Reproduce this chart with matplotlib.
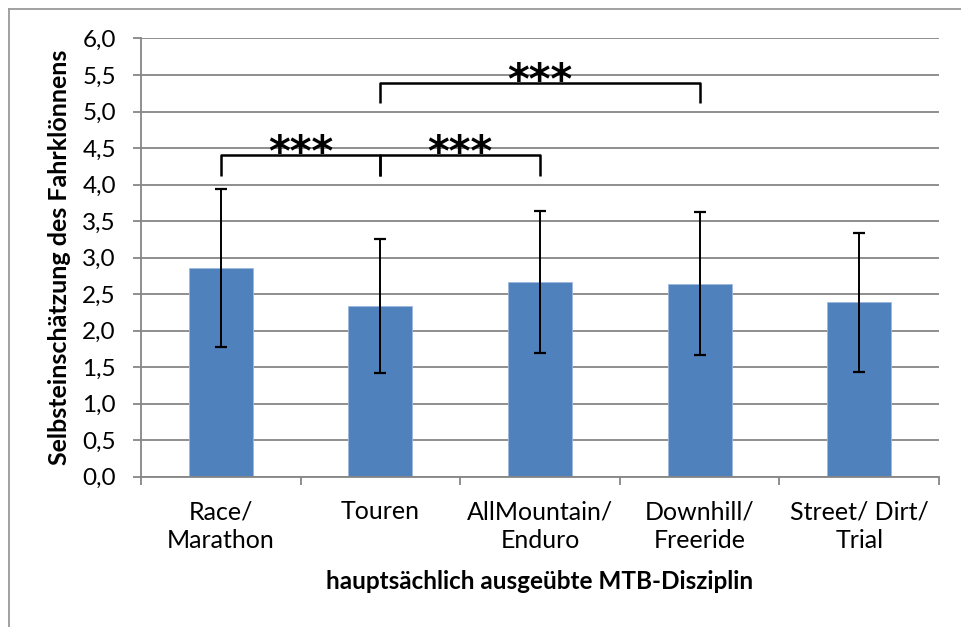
#!/usr/bin/python3
"""Selbsteinschätzung des Fahrkönnens nach MTB-Disziplin."""
import matplotlib
matplotlib.use("Agg")
import matplotlib.pyplot as plt
from matplotlib.lines import Line2D
from matplotlib.ticker import FuncFormatter, MultipleLocator

CATEGORIES = ["Race/\nMarathon", "Touren", "AllMountain/\nEnduro", "Downhill/\nFreeride", "Street/ Dirt/\nTrial"]
MEANS = [2.86, 2.34, 2.67, 2.64, 2.39]
SDS = [1.08, 0.92, 0.97, 0.98, 0.95]

# significance brackets: (left category, right category, label)
BRACKETS = [(0, 1, "***"), (1, 2, "***"), (1, 3, "***")]
BRACKET_BOTTOM = [4.12, 4.12, 5.11]
BRACKET_TOP = [4.40, 4.40, 5.39]

YLABEL = "Selbsteinschätzung des Fahrklönnens"
XLABEL = "hauptsächlich ausgeübte MTB-Disziplin"

BAR_COLOR = "#4F81BD"
GRID_COLOR = "#868686"
FONT = ["Lato", "DejaVu Sans"]

plt.rcParams["font.family"] = FONT

fig = plt.figure(figsize=(9.61, 6.27), dpi=100)
ax = fig.add_axes([0.1467, 0.2397, 0.8304, 0.6989])

x = list(range(len(CATEGORIES)))
ax.bar(x, MEANS, width=0.4, color=BAR_COLOR, edgecolor="#9DB9DD", linewidth=0.6, zorder=2)
ax.errorbar(x, MEANS, yerr=SDS, fmt="none", ecolor="black", elinewidth=1.4,
            capsize=4.5, capthick=1.6, zorder=3)

ax.set_xlim(-0.5, len(CATEGORIES) - 0.5)
ax.set_ylim(0, 6)
ax.yaxis.set_major_locator(MultipleLocator(0.5))
ax.yaxis.set_major_formatter(FuncFormatter(lambda v, _: f"{v:.1f}".replace(".", ",")))
ax.grid(axis="y", color=GRID_COLOR, linewidth=1.3, zorder=0)
ax.set_axisbelow(True)

ax.set_xticks([i - 0.5 for i in range(len(CATEGORIES) + 1)])
ax.set_xticklabels([])
ax.set_xticks(x, minor=True)
ax.set_xticklabels(CATEGORIES, minor=True, fontsize=18, linespacing=1.3)
ax.tick_params(axis="x", which="major", length=6, width=1.3, color=GRID_COLOR)
ax.tick_params(axis="x", which="minor", length=0, pad=17)
ax.tick_params(axis="y", length=6, width=1.3, color=GRID_COLOR, labelsize=17.5, pad=12)

for name, spine in ax.spines.items():
    if name in ("left", "bottom"):
        spine.set_color(GRID_COLOR)
        spine.set_linewidth(1.3)
    else:
        spine.set_visible(False)

ax.set_ylabel(YLABEL, fontsize=18, fontweight="bold", labelpad=8)
ax.set_xlabel(XLABEL, fontsize=17.5, fontweight="bold", labelpad=13)

# brackets with stars
for (left, right, label), low, high in zip(BRACKETS, BRACKET_BOTTOM, BRACKET_TOP):
    ax.plot([left, left, right, right], [low, high, high, low], color="black",
            linewidth=1.8, solid_joinstyle="round", solid_capstyle="butt", zorder=4)
    ax.text((left + right) / 2, high - 0.27, label, ha="center", va="bottom",
            fontsize=30, fontweight="bold", family=["DejaVu Sans"], zorder=5)

# outer chart border (left and top only visible)
fig.add_artist(Line2D([8.5 / 961, 8.5 / 961], [0, 1 - 9 / 627], color="#9A9A9A", linewidth=1.3))
fig.add_artist(Line2D([8.5 / 961, 1], [1 - 9 / 627, 1 - 9 / 627], color="#9A9A9A", linewidth=1.3))

fig.savefig("out.png", dpi=100)
